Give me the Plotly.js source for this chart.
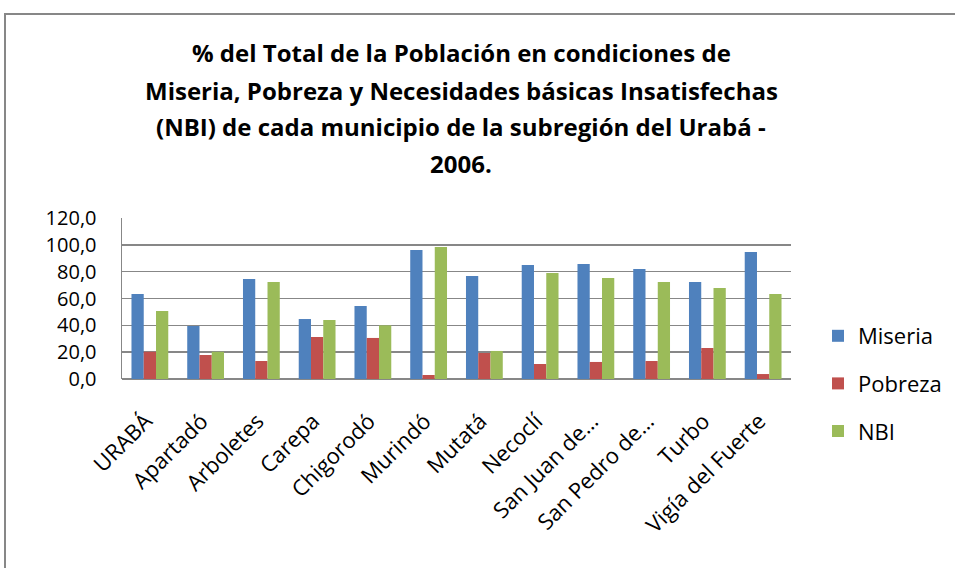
<!DOCTYPE html>
<html>
<head>
<meta charset="utf-8">
<script src="https://cdn.plot.ly/plotly-3.0.1.min.js"></script>
<style>
html,body{margin:0;padding:0;background:#fff;overflow:hidden;}
#chart{position:absolute;left:0;top:0;width:955px;height:568px;}
</style>
</head>
<body>
<div id="chart"></div>
<script>
const categories = ["URABÁ","Apartadó","Arboletes","Carepa","Chigorodó","Murindó","Mutatá","Necoclí","San Juan de…","San Pedro de…","Turbo","Vigía del Fuerte"];
const miseria = [63.4, 39.5, 74.5, 44.7, 54.4, 96.1, 76.8, 85.0, 85.7, 82.0, 72.3, 94.7];
const pobreza = [20.3, 17.9, 13.4, 31.3, 30.6, 3.0, 19.4, 11.2, 12.7, 13.4, 23.1, 3.7];
const nbi = [50.7, 20.3, 72.3, 44.0, 40.0, 98.4, 20.9, 79.0, 75.3, 72.3, 67.8, 63.4];
const yTicks = [0, 20, 40, 60, 80, 100, 120];
const titleLines = [
  "% del Total de la Población en condiciones de",
  "Miseria, Pobreza y Necesidades básicas Insatisfechas",
  "(NBI) de cada municipio de la subregión del Urabá -",
  "2006."
];

const W = 955, H = 568;
const L = 122, R = 791, T = 218, B = 379;
const px = x => (x - L) / (R - L);
const py = y => (B - y) / (B - T);

const font = "'Open Sans', sans-serif";
const traces = [
  {name: "Miseria", y: miseria, color: "#4F81BD"},
  {name: "Pobreza", y: pobreza, color: "#C0504D"},
  {name: "NBI", y: nbi, color: "#9BBB59"}
].map((s, i) => ({
  type: "bar", x: categories, y: s.y, name: s.name,
  marker: {color: s.color}, legendgroup: "g" + i, hoverinfo: "skip"
}));

const titleY = [52, 90, 127, 163];
const annotations = titleLines.map((t, i) => ({
  text: "<b>" + t + "</b>", xref: "paper", yref: "paper",
  x: px(461), y: py(titleY[i]), xanchor: "center", yanchor: "middle",
  showarrow: false, font: {family: font, size: 24, color: "#000"}
}));

const layout = {
  width: W, height: H,
  margin: {l: L, r: W - R, t: T, b: H - B},
  paper_bgcolor: "#fff", plot_bgcolor: "#fff",
  separators: ",.",
  barmode: "group", bargap: 0.34, bargroupgap: 0,
  showlegend: true,
  font: {family: font, color: "#000"},
  annotations: annotations,
  shapes: [{
    type: "path", xref: "paper", yref: "paper",
    path: `M ${px(5)} ${py(H + 20)} L ${px(5)} ${py(14)} L ${px(W + 20)} ${py(14)}`,
    line: {color: "#878787", width: 2}, layer: "above"
  }],
  xaxis: {
    type: "category", tickangle: -45, tickfont: {family: font, size: 22, color: "#000"},
    showline: false, ticks: "", showgrid: false, automargin: false,
    ticklabelstandoff: 24, ticklabelshift: -4
  },
  yaxis: {
    range: [0, 120], tickvals: yTicks, tickformat: ".1f",
    tickfont: {family: font, size: 20, color: "#000"},
    showgrid: true, gridcolor: "#878787", gridwidth: 1.5,
    zeroline: true, zerolinecolor: "#878787", zerolinewidth: 1.5,
    showline: true, linecolor: "#878787", linewidth: 1.5,
    ticks: "", ticklabelstandoff: 20, automargin: false
  },
  legend: {
    x: 818/W, xanchor: "left", xref: "container",
    y: 1 - 315/H, yanchor: "top", yref: "container",
    font: {family: font, size: 22, color: "#000"},
    tracegroupgap: 16, itemwidth: 30, bgcolor: "rgba(0,0,0,0)"
  }
};
Plotly.newPlot("chart", traces, layout, {displayModeBar: false, staticPlot: true});
</script>
</body>
</html>
